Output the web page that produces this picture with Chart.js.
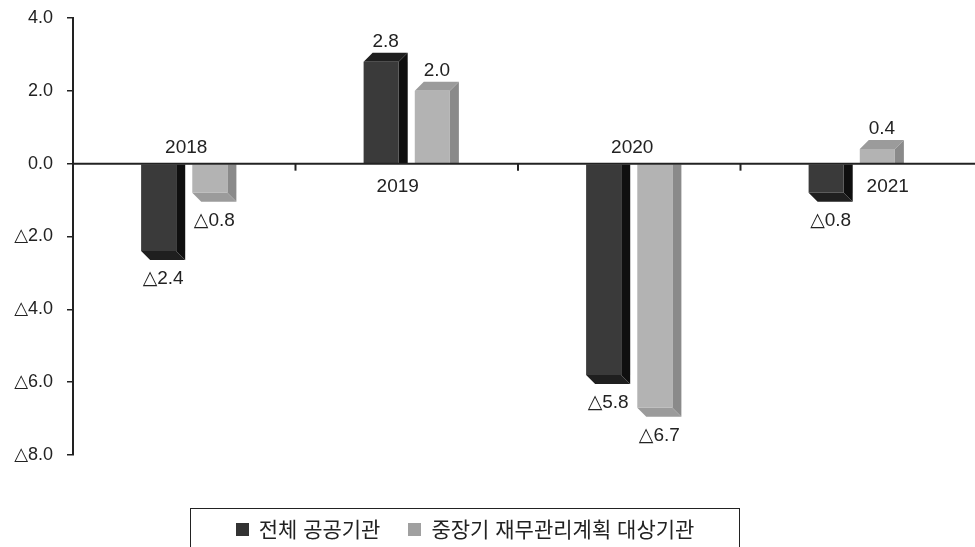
<!DOCTYPE html>
<html lang="ko">
<head>
<meta charset="utf-8">
<title>공공기관 부채비율 증감</title>
<script src="https://cdn.jsdelivr.net/npm/chart.js@4.4.1/dist/chart.umd.min.js"></script>
<style>
  body { margin: 0; background: #fff; }
  #wrap { position: relative; width: 975px; height: 547px; overflow: hidden; }
  #legend {
    position: absolute; left: 190px; top: 508px; width: 550px; height: 70px;
    box-sizing: border-box; border: 1px solid #222;
    font-family: "Noto Sans CJK KR", sans-serif; font-size: 21px; color: #222;
    text-align: center; padding-top: 4px; white-space: nowrap;
  }
  #legend .item { display: inline-block; margin: 0 14px; }
  #legend .box { display: inline-block; width: 13px; height: 13px; margin-right: 10px; vertical-align: 1px; }
</style>
</head>
<body>
<div id="wrap">
  <canvas id="chart" width="975" height="547"></canvas>
  <div id="legend"></div>
</div>
<script>
// 데이터
const years = ['2018', '2019', '2020', '2021'];
const allAgencies = [-2.4, 2.8, -5.8, -0.8];     // 전체 공공기관
const planAgencies = [-0.8, 2.0, -6.7, 0.4];     // 중장기 재무관리계획 대상기관
const seriesNames = ['전체 공공기관', '중장기 재무관리계획 대상기관'];
const yTicks = [-8, -6, -4, -2, 0, 2, 4];

const FONT = '"Liberation Sans", "DejaVu Sans", "Noto Sans CJK KR", sans-serif';

// 음수는 △ 표기
function fmt(v) {
    return (v < 0 ? '△' : '') + Math.abs(v).toFixed(1);
}

// 입체 막대(옆면, 윗면) + 0 기준선 + 라벨
const bar3d = {
    id: 'bar3d',
    beforeDatasetsDraw(chart, args, opts) {
        const ctx = chart.ctx;
        const d = opts.depth;
        ctx.save();
        chart.data.datasets.forEach((ds, i) => {
            chart.getDatasetMeta(i).data.forEach(bar => {
                const x0 = bar.x - bar.width / 2, x1 = bar.x + bar.width / 2;
                const yv = bar.y, yb = bar.base;
                const dy = yv < yb ? -d : d;
                ctx.fillStyle = ds.sideColor;
                ctx.beginPath();
                ctx.moveTo(x1, yb);
                ctx.lineTo(x1 + d, yb);
                ctx.lineTo(x1 + d, yv + dy);
                ctx.lineTo(x1, yv);
                ctx.closePath();
                ctx.fill();
                ctx.fillStyle = ds.capColor;
                ctx.beginPath();
                ctx.moveTo(x0, yv);
                ctx.lineTo(x1, yv);
                ctx.lineTo(x1 + d, yv + dy);
                ctx.lineTo(x0 + d, yv + dy);
                ctx.closePath();
                ctx.fill();
            });
        });
        ctx.restore();
    },
    afterDatasetsDraw(chart, args, opts) {
        const ctx = chart.ctx;
        const xs = chart.scales.x, ys = chart.scales.y;
        const y0 = ys.getPixelForValue(0);
        ctx.save();
        // 0 기준선
        ctx.strokeStyle = '#222';
        ctx.lineWidth = 2;
        ctx.beginPath();
        ctx.moveTo(chart.chartArea.left, y0);
        ctx.lineTo(chart.width, y0);
        ctx.stroke();
        // 항목 구분 눈금
        for (let i = 1; i < years.length; i++) {
            const xb = (xs.getPixelForValue(i - 1) + xs.getPixelForValue(i)) / 2;
            ctx.beginPath();
            ctx.moveTo(xb, y0);
            ctx.lineTo(xb, y0 + 7);
            ctx.stroke();
        }
        // 연도 라벨
        ctx.fillStyle = '#222';
        ctx.font = '19px ' + FONT;
        ctx.textAlign = 'center';
        ctx.textBaseline = 'middle';
        years.forEach((yr, i) => {
            const above = opts.yearAbove[i];
            const x = xs.getPixelForValue(i) + opts.yearShift[i];
            ctx.fillText(yr, x, above ? y0 - 16 : y0 + 23);
        });
        // 값 라벨
        chart.data.datasets.forEach((ds, i) => {
            chart.getDatasetMeta(i).data.forEach((bar, j) => {
                const v = ds.data[j];
                const x = bar.x + opts.depth / 2;
                const y = v < 0 ? bar.y + 28 : bar.y - 20;
                ctx.fillText(fmt(v), x, y);
            });
        });
        ctx.restore();
    }
};

const ctx = document.getElementById('chart').getContext('2d');
Chart.defaults.font.family = FONT;
Chart.defaults.color = '#222';

const chart = new Chart(ctx, {
    type: 'bar',
    data: {
        labels: years,
        datasets: [{
            label: seriesNames[0],
            data: allAgencies,
            backgroundColor: '#3a3a3a',
            sideColor: '#0f0f0f',
            capColor: '#1f1f1f',
            categoryPercentage: 0.46,
            barPercentage: 0.686
        }, {
            label: seriesNames[1],
            data: planAgencies,
            backgroundColor: '#b3b3b3',
            sideColor: '#8a8a8a',
            capColor: '#9b9b9b',
            categoryPercentage: 0.46,
            barPercentage: 0.686
        }]
    },
    options: {
        responsive: false,
        animation: false,
        layout: { padding: { top: 18, right: 12, bottom: 92, left: 0 } },
        plugins: {
            legend: { display: false },
            tooltip: { enabled: false },
            bar3d: {
                depth: 9,
                yearAbove: [true, false, true, false],
                yearShift: [2, -9, 3, 36]
            }
        },
        scales: {
            x: { display: false },
            y: {
                min: -8,
                max: 4,
                afterFit(scale) {
                    scale.width = 73;
                    scale.paddingTop = 0;
                    scale.paddingBottom = 0;
                },
                afterBuildTicks(scale) { scale.ticks = yTicks.map(v => ({ value: v })); },
                ticks: {
                    padding: 14,
                    font: { size: 18 },
                    color: '#222',
                    callback: v => fmt(v)
                },
                grid: {
                    drawOnChartArea: false,
                    drawTicks: true,
                    tickLength: 6,
                    color: '#222',
                    lineWidth: 1.5
                },
                border: { display: true, color: '#222', width: 2 }
            }
        }
    },
    plugins: [bar3d]
});

// 범례
const legendEl = document.getElementById('legend');
chart.data.datasets.forEach(ds => {
    const item = document.createElement('span');
    item.className = 'item';
    const box = document.createElement('span');
    box.className = 'box';
    box.style.background = ds.label === seriesNames[0] ? '#333' : '#a0a0a0';
    item.appendChild(box);
    item.appendChild(document.createTextNode(ds.label));
    legendEl.appendChild(item);
});
</script>
</body>
</html>
